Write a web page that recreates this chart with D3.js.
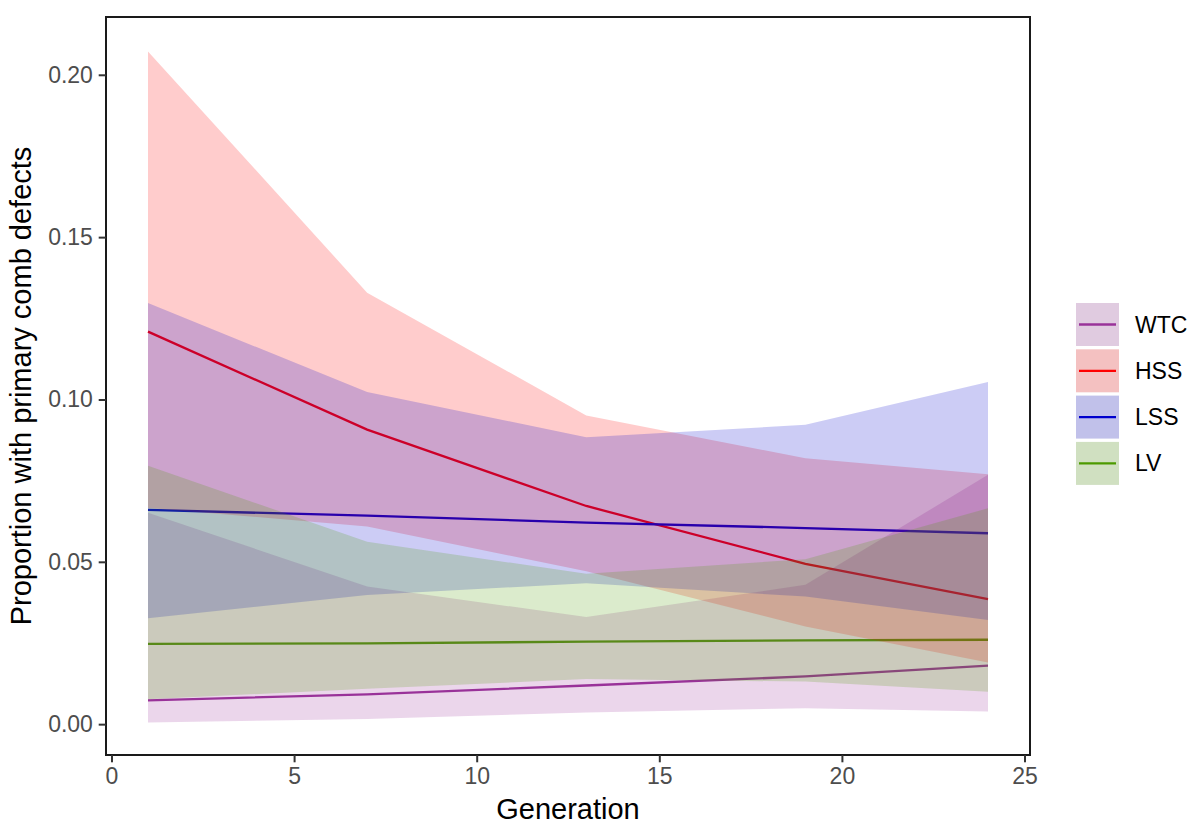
<!DOCTYPE html>
<html>
<head>
<meta charset="utf-8">
<script src="https://cdn.jsdelivr.net/npm/d3@7"></script>
<style>
  body { margin: 0; background: #fff; }
  svg { display: block; font-family: "Liberation Sans", Arial, sans-serif; }
</style>
</head>
<body>
<script>
// Data
const generation = [1, 7, 13, 19, 24];
const groups = ["WTC", "HSS", "LSS", "LV"];
const colours = ["#993399", "#FF0000", "#0000CD", "#4D9A00"];

const wtcFit = [0.0073, 0.0092, 0.0119, 0.0147, 0.018];
const wtcLower = [0.0005, 0.0016, 0.0036, 0.0049, 0.0039];
const wtcUpper = [0.0651, 0.0424, 0.033, 0.0429, 0.0768];

const hssFit = [0.1209, 0.0907, 0.0672, 0.0494, 0.0385];
const hssLower = [0.0666, 0.0609, 0.0471, 0.0301, 0.019];
const hssUpper = [0.2072, 0.1329, 0.0951, 0.0819, 0.077];

const lssFit = [0.066, 0.0642, 0.0621, 0.0604, 0.0588];
const lssLower = [0.0326, 0.0398, 0.0434, 0.0393, 0.0321];
const lssUpper = [0.1297, 0.1023, 0.0884, 0.0922, 0.1054];

const lvFit = [0.0247, 0.0249, 0.0254, 0.0258, 0.026];
const lvLower = [0.0077, 0.0109, 0.0139, 0.0131, 0.01];
const lvUpper = [0.0796, 0.0562, 0.0463, 0.0508, 0.0665];

const xTicks = [0, 5, 10, 15, 20, 25];
const yTicks = [0, 0.05, 0.1, 0.15, 0.2];

// Layout
const width = 1195;
const height = 825;
const panel = { left: 106, right: 1030, top: 17, bottom: 755 };
const tickLen = 7.3;
const tickPad = 5.8;
const lineWidth = 2.3;

const series = groups.map((g, i) => ({
  name: g,
  colour: colours[i],
  fit: [wtcFit, hssFit, lssFit, lvFit][i],
  lower: [wtcLower, hssLower, lssLower, lvLower][i],
  upper: [wtcUpper, hssUpper, lssUpper, lvUpper][i],
}));

const svg = d3
  .select("body")
  .append("svg")
  .attr("width", width)
  .attr("height", height);

const x = d3.scaleLinear().domain([-0.15, 25.15]).range([panel.left, panel.right]);
const y = d3.scaleLinear().domain([-0.0095, 0.2178]).range([panel.bottom, panel.top]);

const line = d3
  .line()
  .x((d, i) => x(generation[i]))
  .y((d) => y(d));

const ribbon = d3
  .area()
  .x((d) => x(d.g))
  .y0((d) => y(d.lo))
  .y1((d) => y(d.hi));

// Lines first, then the ribbons over them (as in the original)
svg
  .append("g")
  .selectAll("path")
  .data(series)
  .join("path")
  .attr("d", (s) => line(s.fit))
  .attr("fill", "none")
  .attr("stroke", (s) => s.colour)
  .attr("stroke-width", lineWidth);

svg
  .append("g")
  .selectAll("path")
  .data(series)
  .join("path")
  .attr("d", (s) =>
    ribbon(generation.map((g, i) => ({ g: g, lo: s.lower[i], hi: s.upper[i] })))
  )
  .attr("fill", (s) => s.colour)
  .attr("fill-opacity", 0.2)
  .attr("stroke", "none");

// Panel border
svg
  .append("rect")
  .attr("x", panel.left)
  .attr("y", panel.top)
  .attr("width", panel.right - panel.left)
  .attr("height", panel.bottom - panel.top)
  .attr("fill", "none")
  .attr("stroke", "#1a1a1a")
  .attr("stroke-width", 2);

// Axes
const xAxis = svg
  .append("g")
  .attr("transform", `translate(0, ${panel.bottom})`)
  .call(d3.axisBottom(x).tickValues(xTicks).tickSize(tickLen).tickPadding(tickPad).tickFormat(d3.format("d")));

const yAxis = svg
  .append("g")
  .attr("transform", `translate(${panel.left}, 0)`)
  .call(d3.axisLeft(y).tickValues(yTicks).tickSize(tickLen).tickPadding(tickPad).tickFormat(d3.format(".2f")));

[xAxis, yAxis].forEach((a) => {
  a.select(".domain").remove();
  a.selectAll(".tick line").attr("stroke", "#333333").attr("stroke-width", 2);
  a.selectAll(".tick text")
    .attr("fill", "#4d4d4d")
    .style("font-size", "23px")
    .style("font-family", "'Liberation Sans', Arial, sans-serif");
});

// Axis titles
svg
  .append("text")
  .attr("x", (panel.left + panel.right) / 2)
  .attr("y", 819)
  .attr("text-anchor", "middle")
  .style("font-size", "29px")
  .attr("fill", "#000")
  .text("Generation");

svg
  .append("text")
  .attr("transform", `translate(31, ${(panel.top + panel.bottom) / 2}) rotate(-90)`)
  .attr("text-anchor", "middle")
  .style("font-size", "29px")
  .attr("fill", "#000")
  .text("Proportion with primary comb defects");

// Legend
const keySize = 43;
const keyStep = 46.3;
const legend = svg.append("g").attr("transform", "translate(1076, 303)");

const keys = legend
  .selectAll("g")
  .data(series)
  .join("g")
  .attr("transform", (s, i) => `translate(0, ${i * keyStep})`);

keys
  .append("rect")
  .attr("width", keySize)
  .attr("height", keySize)
  .attr("fill", "#f2f2f2");

keys
  .append("line")
  .attr("x1", 3)
  .attr("x2", keySize - 3)
  .attr("y1", keySize / 2)
  .attr("y2", keySize / 2)
  .attr("stroke", (s) => s.colour)
  .attr("stroke-width", lineWidth);

keys
  .append("rect")
  .attr("width", keySize)
  .attr("height", keySize)
  .attr("fill", (s) => s.colour)
  .attr("fill-opacity", 0.2);

keys
  .append("text")
  .attr("x", 59)
  .attr("y", keySize / 2)
  .attr("dy", "0.35em")
  .style("font-size", "23px")
  .attr("fill", "#000")
  .text((s) => s.name);
</script>
</body>
</html>
